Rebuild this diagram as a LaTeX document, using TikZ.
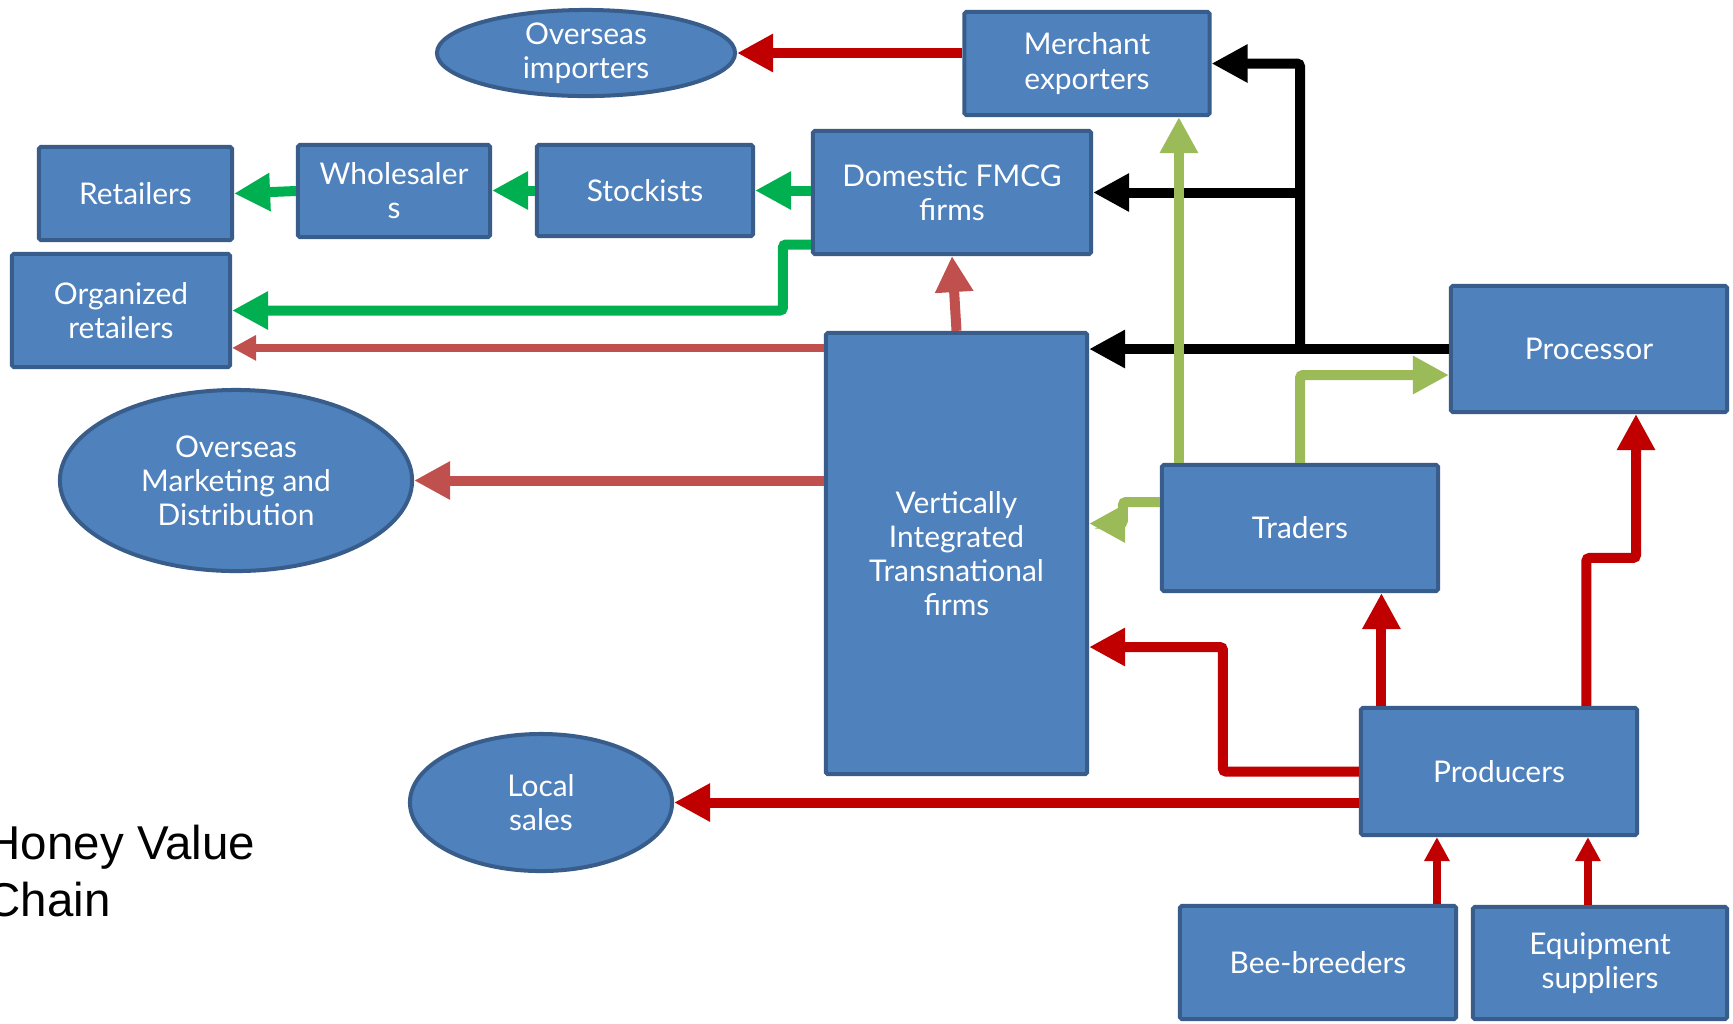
\documentclass[tikz,border=0pt]{standalone}
\usepackage{fontspec}
\setmainfont{Lato}
\newfontfamily\titlefont{Liberation Sans}
\usepackage{tikz}
\usetikzlibrary{calc,arrows.meta,shapes.geometric}
\definecolor{boxfill}{HTML}{4F81BD}
\definecolor{boxline}{HTML}{385D8A}
\definecolor{darkred}{HTML}{C00000}
\definecolor{lightred}{HTML}{C0504D}
\definecolor{flowgreen}{HTML}{00B050}
\definecolor{leafgreen}{HTML}{9BBB59}
\newcommand{\boxfont}{\fontsize{8.5}{9.7}\selectfont}
\tikzset{
	box/.style={draw=boxline, fill=boxfill, line width=0.04cm, text=white, align=center, font=\boxfont, inner sep=0pt, rounded corners=0.5pt},
	oval/.style={box, ellipse},
	flow/.style={line width=0.1cm, -{Triangle[length=0.36cm, width=0.36cm]}},
	thinflow/.style={line width=0.075cm, -{Triangle[length=0.24cm, width=0.24cm]}},
	elbow/.style={rounded corners=0.03cm}
}

\begin{document}
\begin{tikzpicture}[x=0.01cm, y=-0.01cm]
			%%%%% START %%%%%
			
			\useasboundingbox (0, 0) rectangle (1733, 1023);
			\fill[white] (0, 0) rectangle (1733, 1023);
			
			\node[oval, minimum width=2.98cm, minimum height=0.86cm] (oimp) at (586, 53) {Overseas\\importers};
			\node[box, minimum width=2.45cm, minimum height=1.03cm] (mexp) at (1087, 63.5) {Merchant\\exporters};
			
			\node[box, minimum width=1.93cm, minimum height=0.93cm] (ret) at (135.5, 193.5) {Retailers};
			\node[box, minimum width=1.92cm, minimum height=0.92cm] (whs) at (394, 191) {Wholesaler\\s};
			\node[box, minimum width=2.16cm, minimum height=0.91cm] (stk) at (645, 190.5) {Stockists};
			\node[box, minimum width=2.78cm, minimum height=1.23cm] (dom) at (952, 192.5) {Domestic FMCG\\firms};
			\node[box, minimum width=2.18cm, minimum height=1.13cm] (org) at (121, 310.5) {Organized\\retailers};
			
			\node[box, minimum width=2.76cm, minimum height=1.26cm] (proc) at (1589, 349) {Processor};
			\node[oval, minimum width=3.52cm, minimum height=1.81cm] (omd) at (236, 480.5) {Overseas\\Marketing and\\Distribution};
			\node[box, minimum width=2.61cm, minimum height=4.41cm] (vif) at (956.5, 553.5) {Vertically\\Integrated\\Transnational\\firms};
			\node[box, minimum width=2.76cm, minimum height=1.26cm] (trd) at (1300, 528) {Traders};
			\node[box, minimum width=2.76cm, minimum height=1.27cm] (prd) at (1499, 771.5) {Producers};
			\node[oval, minimum width=2.62cm, minimum height=1.37cm] (loc) at (541, 802.5) {Local\\sales};
			\node[box, minimum width=2.76cm, minimum height=1.13cm] (bee) at (1318, 962.5) {Bee-breeders};
			\node[box, minimum width=2.54cm, minimum height=1.12cm] (eqp) at (1600, 963) {Equipment\\suppliers};
			
			\node[anchor=base west, align=left, inner sep=0pt, font=\titlefont\fontsize{13.5}{16.2}\selectfont] (title) at (-14, 916) {Honey Value\\Chain};
			
			\coordinate (tgo) at ($(trd.north west)+(19, 0)$);
			\coordinate (vo) at ($(vif.north west)+(0, 17)$);
			\coordinate (pto) at ($(prd.north west)+(22.5, 0)$);
			\coordinate (pps) at ($(prd.north west)+(227.5, 0)$);
			\coordinate (bto) at ($(bee.north west)+(259, 0)$);
			\coordinate (eto) at ($(eqp.north west)+(117, 0)$);
			
			% black
			\draw[flow] (proc.west) -- (vif.east |- proc.west);
			\draw[flow, elbow] (trd.north |- proc.west) |- (mexp.east);
			\draw[flow] (trd.north |- dom.east) -- (dom.east);
			
			% light green
			\draw[flow, leafgreen] (tgo) -- (tgo |- mexp.south);
			\draw[flow, leafgreen, elbow] (trd.north) |- ($(proc.west)+(0, 26)$);
			\draw[flow, leafgreen, elbow] ($(trd.west)+(0, -26)$) -- ++(-37, 0) |- ($(vif.east)+(0, -30)$);
			
			% green
			\draw[flow, flowgreen] (dom.west |- stk.east) -- (stk.east);
			\draw[flow, flowgreen] (stk.west) -- (whs.east |- stk.west);
			\draw[flow, flowgreen] (whs.west) -- (ret.east);
			\draw[flow, flowgreen, elbow] ($(dom.west)+(0, 52)$) -- ++(-28, 0) |- (org.east);
			
			% light red
			\draw[flow, lightred] (vif.north) -- (dom.south);
			\draw[thinflow, lightred] (vo) -- (org.east |- vo);
			\draw[flow, lightred] (vif.west |- omd.east) -- (omd.east);
			
			% dark red
			\draw[flow, darkred] (mexp.west |- oimp.east) -- (oimp.east);
			\draw[flow, darkred] (prd.west |- loc.east) -- (loc.east);
			\draw[flow, darkred, elbow] (prd.west) -- ++(-136, 0) |- ($(vif.east)+(0, 93.5)$);
			\draw[flow, darkred] (pto) -- (pto |- trd.south);
			\draw[flow, darkred, elbow] (pps) -- ++(0, -148) -| ($(proc.south)+(47, 0)$);
			\draw[thinflow, darkred] (bto) -- (bto |- prd.south);
			\draw[thinflow, darkred] (eto) -- (eto |- prd.south);
			
			%%%%% END %%%%%
		\end{tikzpicture}
\end{document}
